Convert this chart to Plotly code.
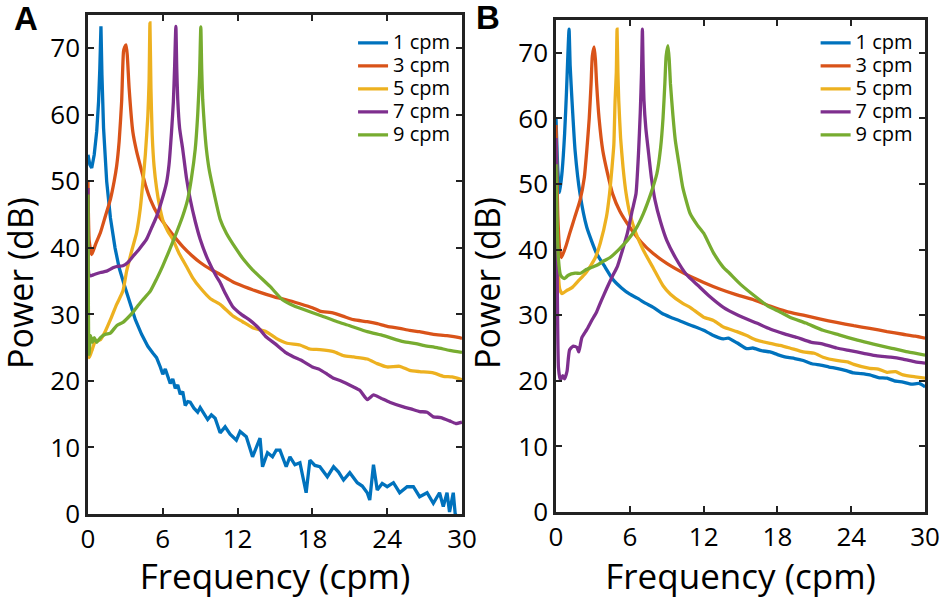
import plotly.graph_objects as go

# MATLAB default line colours
colors = ["#0072BD", "#D95319", "#EDB120", "#7E2F8E", "#77AC30"]
names = ["1 cpm", "3 cpm", "5 cpm", "7 cpm", "9 cpm"]

x_ticks = [0, 6, 12, 18, 24, 30]
y_ticks = [0, 10, 20, 30, 40, 50, 60, 70]

# ---------------- panel A ----------------
freq_a1 = [0, 0.15, 0.3, 0.5, 0.7, 0.85, 0.95, 1.04, 1.12, 1.25, 1.5, 1.8, 2.17, 2.5, 2.9, 3.4, 3.8,
           4.3, 4.8, 5.2, 5.5, 5.8, 6.0, 6.2, 6.4, 6.6, 6.8, 7.0, 7.2, 7.4, 7.6, 7.8, 8.0, 8.2, 8.5,
           8.8, 9.0, 9.3, 9.6, 9.9, 10.2, 10.6, 11.0, 11.4, 11.9, 12.2, 12.7, 13.2, 13.8, 14.0, 14.4,
           14.8, 15.1, 15.4, 15.9, 16.2, 16.6, 17.0, 17.5, 17.8, 18.2, 18.6, 19.2, 19.7, 20.1, 20.5,
           21.0, 21.6, 22.0, 22.4, 22.6, 22.9, 23.2, 23.6, 24.0, 24.5, 25.0, 25.6, 26.1, 26.6, 27.2,
           27.7, 28.2, 28.5, 28.8, 29.0, 29.3, 29.45, 29.6]
pow_a1 = [54, 52.5, 52, 54, 57.5, 62, 67, 73.3, 66, 58, 50, 44.5, 40, 37, 34.5, 31.5, 29.2,
          27, 25.2, 24.2, 23.5, 22.1, 21.0, 21.8, 20.5, 19.6, 20.3, 18.9, 19.4, 18.0, 18.4, 16.3, 16.9, 16.8, 15.9,
          15.3, 16.0, 15.0, 14.2, 14.9, 14.4, 12.2, 13.1, 12.0, 11.1, 12.4, 11.6, 8.6, 11.4, 7.1, 9.2,
          8.6, 9.6, 9.6, 7.1, 8.6, 7.4, 7.7, 3.2, 8.1, 7.3, 7.1, 5.6, 7.1, 6.3, 5.1,
          6.2, 4.7, 4.2, 3.2, 2.1, 7.4, 3.6, 4.6, 4.1, 4.7, 3.2, 4.1, 4.1, 2.6, 3.2,
          1.6, 3.2, 1.1, 3.2, 0.3, 3.2, 0.1, -0.5]

freq_a3 = [0, 0.1, 0.3, 0.6, 1.0, 1.4, 1.8, 2.1, 2.3, 2.5, 2.7, 2.85, 2.95, 3.05, 3.15, 3.3, 3.6,
           3.9, 4.2, 4.6, 5.0, 5.6, 6.3, 7.0, 7.6, 8.3, 9.0, 10.0, 10.6, 11.6, 12.5, 13.2, 14.3,
           15.0, 15.9, 17.0, 18.0, 18.6, 19.7, 20.5, 21.3, 22.4, 23.2, 24.0, 25.0, 25.8, 26.6,
           27.7, 28.8, 29.8, 30]
pow_a3 = [50, 41, 39, 40.5, 42.3, 44.8, 47.3, 50, 52.3, 56, 62, 69.5, 70.2, 70.5, 69, 64, 57.4,
          54.5, 52.3, 49.5, 47.3, 45, 43.2, 41.5, 40.2, 38.9, 37.8, 36.6, 36.0, 34.9, 34.2, 33.7, 33.0,
          32.6, 32.2, 31.6, 31.0, 30.5, 30.2, 29.7, 29.2, 28.9, 28.6, 28.2, 27.9, 27.6, 27.4,
          27.0, 26.8, 26.5, 26.4]

freq_a5 = [0, 0.1, 0.3, 0.6, 1.0, 1.4, 1.8, 2.3, 2.8, 3.1, 3.5, 3.9, 4.2, 4.4, 4.6, 4.8, 4.9,
           4.97, 5.05, 5.15, 5.3, 5.5, 5.75, 6.0, 6.4, 6.8, 7.3, 7.9, 8.4, 9.0, 9.8, 10.6, 11.6,
           12.4, 13.2, 14.3, 15.1, 15.9, 17.0, 17.8, 18.6, 19.7, 20.5, 21.3, 22.4, 23.2, 24.0,
           25.0, 25.8, 26.6, 27.7, 28.5, 29.2, 30]
pow_a5 = [40, 23.5, 24.5, 26, 26.2, 27.5, 29.2, 31.5, 33.5, 36.5, 39.5, 42.3, 46, 49.8, 54, 59.8, 65,
          73.8, 64, 57, 52.3, 49, 46.2, 44.2, 42.5, 41.3, 39.2, 37.2, 35.5, 34, 32.4, 31.5, 29.8,
          28.9, 28.0, 27.4, 26.4, 25.7, 25.4, 24.8, 24.7, 24.4, 23.8, 23.6, 23.3, 22.6, 22.1,
          22.2, 21.6, 21.4, 21.2, 20.7, 20.6, 20.2]

freq_a7 = [0, 0.08, 0.2, 0.5, 1.0, 1.5, 2.0, 2.3, 2.8, 3.2, 3.6, 4.1, 4.7, 5.1, 5.5, 5.9, 6.3,
           6.5, 6.7, 6.85, 6.95, 7.05, 7.12, 7.2, 7.35, 7.6, 7.9, 8.2, 8.6, 9.0, 9.6, 10.3, 10.6,
           11.0, 11.6, 12.3, 13.0, 13.5, 13.8, 14.3, 15.0, 15.9, 16.5, 17.2, 18.0, 18.6, 19.2,
           19.7, 20.3, 21.3, 21.8, 22.4, 22.9, 23.5, 24.2, 25.3, 25.9, 26.6, 27.2, 27.7, 28.3,
           29.0, 29.5, 30]
pow_a7 = [49, 36, 35.8, 36, 36.3, 36.5, 37.0, 37.2, 37.3, 37.8, 38.7, 39.8, 41.3, 43, 44.7, 47, 49.8,
          52.5, 57.4, 62, 67.3, 73.3, 67, 62.3, 58, 54.8, 50.5, 47.3, 44, 41.3, 38.3, 35.7, 34.8,
          33.2, 31.2, 30, 29.1, 28.3, 27.7, 26.6, 25.6, 24.2, 23.6, 23.0, 22.1, 21.7, 21.0,
          20.4, 20.0, 19.1, 18.6, 17.2, 17.9, 17.4, 16.8, 16.1, 15.8, 15.4, 15.3, 14.6, 14.5,
          14.0, 13.6, 13.8]

freq_a9 = [0, 0.08, 0.2, 0.35, 0.5, 0.7, 1.0, 1.4, 1.8, 2.3, 2.8, 3.2, 3.6, 4.0, 4.4, 5.0, 5.5,
           6.0, 6.5, 7.1, 7.6, 8.0, 8.3, 8.6, 8.8, 8.95, 9.05, 9.12, 9.2, 9.35, 9.5, 9.7, 10.0,
           10.6, 11.1, 11.9, 12.5, 13.2, 14.6, 15.6, 16.5, 17.8, 18.7, 20.0, 21.0, 22.4, 23.7,
           25.3, 26.3, 27.0, 28.0, 29.0, 30]
pow_a9 = [48, 24, 26.8, 25.8, 26.5, 25.8, 26.5, 27, 27.2, 28.3, 28.8, 29.5, 30.3, 31.3, 32.2, 33.5, 35.3,
          37.3, 39.5, 42.3, 44.8, 47.3, 50.5, 54.8, 60, 66, 73.2, 67, 62.3, 58, 54.8, 52, 49.2,
          44.3, 42.2, 39.8, 38.2, 36.7, 34.2, 32.2, 31.3, 30.4, 29.8, 28.9, 28.3, 27.4, 26.8,
          25.9, 25.6, 25.3, 25.0, 24.6, 24.3]

# ---------------- panel B ----------------
freq_b1 = [0, 0.15, 0.3, 0.5, 0.7, 0.85, 0.95, 1.06, 1.15, 1.3, 1.55, 1.95, 2.5, 3.3, 4.0, 4.6,
           5.3, 6.0, 6.6, 7.3, 7.9, 8.6, 9.3, 10.0, 10.9, 11.5, 12.0, 12.7, 13.6, 14.0, 14.7, 15.5,
           16.0, 16.7, 17.4, 18.0, 18.7, 19.4, 20.1, 20.8, 21.5, 22.2, 22.8, 23.5, 24.2, 24.8,
           25.5, 26.2, 26.9, 27.5, 28.2, 28.9, 29.5, 30]
pow_b1 = [60, 52, 48.7, 52, 57.7, 64, 69, 73.6, 68, 62.7, 55.1, 48.5, 43.4, 39.4, 37.3, 35.5,
          34.2, 33.2, 32.6, 31.8, 31.2, 30.3, 29.7, 29.2, 28.5, 28.1, 27.7, 27.0, 26.4, 26.5, 25.8, 24.9,
          25.0, 24.6, 24.4, 24.0, 23.6, 23.4, 23.1, 22.6, 22.4, 22.1, 21.9, 21.6, 21.2, 21.1,
          20.9, 20.5, 20.4, 20.0, 19.8, 19.5, 19.6, 19.1]

freq_b3 = [0, 0.15, 0.3, 0.45, 0.8, 1.1, 1.5, 1.95, 2.3, 2.5, 2.7, 2.85, 2.95, 3.1, 3.2, 3.3,
           3.5, 3.8, 4.2, 4.6, 5.2, 6.0, 6.9, 7.9, 9.0, 10.6, 12.0, 13.3, 14.7, 16.0, 17.4, 18.7,
           20.1, 21.5, 22.8, 24.2, 25.5, 26.9, 28.2, 29.2, 30]
pow_b3 = [59, 45, 40, 38.8, 40.5, 42.4, 44.8, 47.5, 51, 55.1, 60, 65.3, 69.5, 70.9, 69, 65.3,
          60, 55.1, 51.5, 48.5, 45.8, 43.4, 41.2, 39.4, 37.9, 36.2, 35.0, 34.0, 33.1, 32.4, 31.4, 30.6,
          30.0, 29.4, 28.9, 28.4, 28.0, 27.5, 27.1, 26.8, 26.5]

freq_b5 = [0, 0.1, 0.3, 0.5, 0.9, 1.3, 1.8, 2.4, 2.8, 3.2, 3.6, 4.1, 4.35, 4.55, 4.7, 4.8, 4.9,
           4.96, 5.03, 5.1, 5.25, 5.45, 5.7, 6.0, 6.5, 7.1, 7.9, 8.7, 9.3, 10.3, 10.9, 12.0, 12.8,
           13.6, 14.7, 15.5, 16.3, 17.4, 18.2, 19.0, 20.1, 21.0, 21.7, 22.8, 23.7, 24.2, 25.5,
           26.2, 26.9, 27.6, 28.2, 29.2, 30]
pow_b5 = [50, 40, 34, 33.3, 33.8, 34.2, 35.2, 36.4, 37.5, 38.8, 41, 45, 48.5, 52.5, 56, 62.7, 67,
          73.6, 67, 62.7, 57, 52.5, 48.5, 45.5, 42.5, 39.9, 37.2, 34.5, 33.2, 31.8, 31.2, 29.7, 29.2,
          28.2, 27.5, 26.9, 26.2, 25.7, 25.4, 25.0, 24.4, 24.2, 23.6, 23.1, 22.9, 22.5, 21.9,
          21.8, 21.3, 21.4, 20.9, 20.6, 20.4]

freq_b7 = [0, 0.08, 0.2, 0.35, 0.55, 0.7, 0.9, 1.1, 1.4, 1.7, 1.85, 2.1, 2.5, 2.9, 3.3, 3.7,
           4.1, 4.55, 5.0, 5.4, 5.8, 6.2, 6.5, 6.7, 6.85, 6.95, 7.02, 7.08, 7.15, 7.3, 7.5, 7.75,
           8.05, 8.5, 9.0, 9.7, 10.6, 11.5, 12.4, 13.6, 14.8, 16.3, 17.4, 18.5, 19.6, 20.7, 21.7,
           22.8, 23.9, 25.0, 26.1, 27.2, 28.2, 29.2, 30]
pow_b7 = [57, 40, 22, 20.1, 20.8, 20.3, 21.5, 24.7, 25.3, 25.1, 24.4, 26.6, 27.8, 29.2, 30.5, 32.3,
          34, 35.8, 37.5, 39.9, 42.5, 46, 48.5, 54.5, 61, 67, 73.6, 68, 62.7, 58.5, 55.1, 51,
          47.5, 44.2, 41.4, 38.8, 36.2, 34.6, 33, 31.2, 30, 28.8, 27.9, 27.2, 26.6, 25.9, 25.6,
          25.0, 24.6, 24.2, 23.8, 23.6, 23.3, 22.9, 22.7]

freq_b9 = [0, 0.08, 0.2, 0.35, 0.5, 0.7, 1.0, 1.55, 2.0, 2.4, 2.9, 3.4, 3.9, 4.4, 5.1, 5.8, 6.5,
           7.1, 7.7, 8.2, 8.5, 8.7, 8.85, 8.95, 9.1, 9.2, 9.3, 9.5, 9.7, 10.0, 10.3, 10.9, 11.5,
           12.0, 12.8, 13.6, 14.1, 15.0, 16.3, 17.3, 18.2, 19.0, 20.3, 21.7, 23.0, 24.5, 25.8,
           27.2, 28.6, 30]
pow_b9 = [53, 45, 38.5, 36.2, 35.8, 35.6, 36.1, 36.4, 36.4, 36.9, 37.3, 37.7, 38.3, 38.8, 40, 41.4, 43.2,
          45.5, 48.5, 51.6, 55.5, 60.1, 65.5, 69.5, 71.1, 69, 65.3, 60.5, 56.6, 53, 49.5, 45.5, 43.7,
          42.5, 39.5, 37.3, 36.4, 34.7, 32.7, 31.3, 30.5, 29.7, 28.8, 27.7, 27.0, 26.2, 25.6,
          25.0, 24.4, 23.9]

panel_a = [(freq_a1, pow_a1), (freq_a3, pow_a3), (freq_a5, pow_a5), (freq_a7, pow_a7), (freq_a9, pow_a9)]
panel_b = [(freq_b1, pow_b1), (freq_b3, pow_b3), (freq_b5, pow_b5), (freq_b7, pow_b7), (freq_b9, pow_b9)]

FONT = "Open Sans"
fig = go.Figure()

# legend label text is larger than the legend font so rows stay tight like the original
def label(s):
    return '<span style="font-size:20px">' + s + '</span>'

for i, (f, p) in enumerate(panel_a):
    shape = "linear" if i == 0 else "spline"
    fig.add_trace(go.Scatter(x=f, y=p, mode="lines", name=label(names[i]), legend="legend",
                             line=dict(color=colors[i], width=3.3, shape=shape, smoothing=0.5),
                             xaxis="x", yaxis="y"))
for i, (f, p) in enumerate(panel_b):
    fig.add_trace(go.Scatter(x=f, y=p, mode="lines", name=label(names[i]), legend="legend2",
                             line=dict(color=colors[i], width=3.3, shape="spline", smoothing=0.5),
                             xaxis="x2", yaxis="y2"))

axis_style = dict(showline=True, linecolor="#222", linewidth=2.5, mirror="ticks",
                  ticks="inside", ticklen=6, tickwidth=2, tickcolor="#222",
                  showgrid=False, zeroline=False, automargin=False,
                  tickfont=dict(family=FONT, size=26, color="black"))

xa = dict(axis_style, range=[0, 30], tickvals=x_ticks,
          title=dict(text="Frequency (cpm)", font=dict(family=FONT, size=35, color="black"), standoff=6))
ya = dict(axis_style, range=[0, 75], tickvals=y_ticks, ticklabelstandoff=0)

legend_style = dict(font=dict(family=FONT, size=15.4, color="black"), bgcolor="rgba(0,0,0,0)",
                    tracegroupgap=0, yanchor="top", xanchor="left")

title_font = dict(family=FONT, size=34, color="black")
panel_font = dict(family="Liberation Sans", size=33, color="black")

fig.update_layout(
    width=944, height=599,
    margin=dict(l=0, r=0, t=0, b=0),
    paper_bgcolor="white", plot_bgcolor="white",
    xaxis=dict(xa, domain=[0.0932, 0.4894], anchor="y"),
    yaxis=dict(ya, domain=[0.1419, 0.975], anchor="x"),
    xaxis2=dict(xa, domain=[0.589, 0.980], anchor="y2"),
    yaxis2=dict(ya, domain=[0.1452, 0.9666], anchor="x2"),
    legend=dict(legend_style, x=0.374, y=0.956),
    legend2=dict(legend_style, x=0.864, y=0.956),
    annotations=[
        dict(text="<b>A</b>", x=26 / 944, y=1 - 19 / 599, xref="paper", yref="paper",
             xanchor="center", yanchor="middle", showarrow=False, font=panel_font),
        dict(text="<b>B</b>", x=488 / 944, y=1 - 17 / 599, xref="paper", yref="paper",
             xanchor="center", yanchor="middle", showarrow=False, font=panel_font),
        # y-axis titles placed by hand (plotly's standoff is ignored with zero margins)
        dict(text="Power (dB)", textangle=-90, x=20 / 944, y=1 - 283 / 599, xref="paper", yref="paper",
             xanchor="center", yanchor="middle", showarrow=False, font=title_font),
        dict(text="Power (dB)", textangle=-90, x=487 / 944, y=1 - 283 / 599, xref="paper", yref="paper",
             xanchor="center", yanchor="middle", showarrow=False, font=title_font),
    ],
)

# the page body has a default 8px margin; drop it so the figure fills the window
fig.write_html("out.html", config={"displayModeBar": False},
               post_script="document.body.style.margin='0px';")
